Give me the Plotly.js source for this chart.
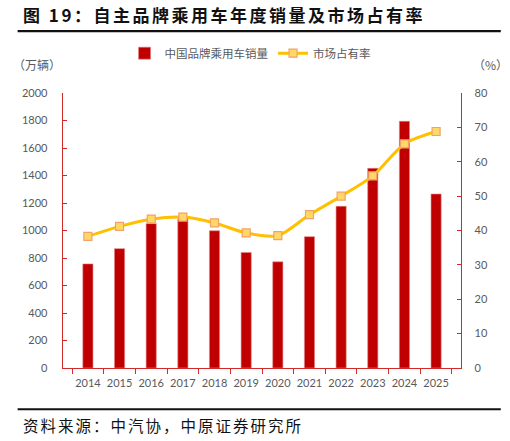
<!DOCTYPE html>
<html>
<head>
<meta charset="utf-8">
<script src="https://cdn.plot.ly/plotly-3.0.1.min.js"></script>
<style>
  body { margin: 0; background: #fff; }
  #chart { width: 510px; height: 441px; }
</style>
</head>
<body>
<div id="chart"></div>
<script>
// 年份
var years = ['2014', '2015', '2016', '2017', '2018', '2019', '2020', '2021', '2022', '2023', '2024', '2025'];
// 中国品牌乘用车销量 (万辆)
var sales = [757, 868, 1050, 1085, 998, 840, 772, 955, 1176, 1452, 1794, 1265];
// 市场占有率 (%)
var share = [38.3, 41.2, 43.3, 43.9, 42.2, 39.3, 38.5, 44.6, 50.0, 55.9, 65.2, 68.8];

var numFont = 'Lato, "Noto Sans CJK SC", sans-serif';
var cjkFont = '"Noto Sans CJK SC", sans-serif';
var axisRed = '#d02a2a';
var grey = '#595959';

var barTrace = {
  x: years,
  y: sales,
  name: '中国品牌乘用车销量',
  type: 'bar',
  width: 0.32,
  marker: { color: '#c00000', line: { color: '#e08080', width: 0.6 } },
  yaxis: 'y'
};

var lineTrace = {
  x: years,
  y: share,
  name: '市场占有率',
  type: 'scatter',
  mode: 'lines+markers',
  line: { color: '#ffc000', width: 3, shape: 'spline', smoothing: 0.8 },
  marker: { symbol: 'square', size: 8, color: '#ffd966', line: { color: '#f4a06a', width: 1.2 } },
  yaxis: 'y2'
};

var layout = {
  width: 510,
  height: 441,
  margin: { l: 63, r: 49, t: 93, b: 73 },
  paper_bgcolor: '#fff',
  plot_bgcolor: '#fff',
  font: { family: numFont, color: grey, size: 11 },
  showlegend: true,
  legend: {
    orientation: 'h',
    x: 0.47, xanchor: 'center',
    y: 1.145, yanchor: 'middle',
    font: { family: cjkFont, size: 11.5, color: grey },
    itemwidth: 30,
    traceorder: 'normal'
  },
  xaxis: {
    type: 'category',
    showline: true,
    linecolor: axisRed,
    linewidth: 1.3,
    ticks: 'outside',
    tickson: 'boundaries',
    ticklen: 5,
    tickcolor: axisRed,
    tickangle: 0,
    tickfont: { family: numFont, size: 11, color: grey },
    ticklabelstandoff: 4,
    showgrid: false,
    zeroline: false
  },
  yaxis: {
    range: [0, 2000],
    dtick: 200,
    showline: true,
    linecolor: axisRed,
    linewidth: 1.3,
    ticks: 'inside',
    ticklen: 4,
    tickcolor: axisRed,
    tickfont: { family: numFont, size: 11, color: grey },
    ticklabelstandoff: 12,
    showgrid: false,
    zeroline: false
  },
  yaxis2: {
    range: [0, 80],
    dtick: 10,
    overlaying: 'y',
    side: 'right',
    showline: true,
    linecolor: axisRed,
    linewidth: 1.3,
    ticks: 'inside',
    ticklen: 4,
    tickcolor: axisRed,
    tickfont: { family: numFont, size: 11, color: grey },
    ticklabelstandoff: 10,
    showgrid: false,
    zeroline: false
  },
  shapes: [
    { type: 'line', xref: 'paper', yref: 'paper', x0: -0.114, x1: 1.1, y0: 1.225, y1: 1.225,
      line: { color: '#111', width: 2.2 } },
    { type: 'line', xref: 'paper', yref: 'paper', x0: -0.114, x1: 1.1, y0: -0.15, y1: -0.15,
      line: { color: '#111', width: 2.2 } }
  ],
  annotations: [
    { text: '<b>图 19：自主品牌乘用车年度销量及市场占有率</b>', xref: 'paper', yref: 'paper',
      x: -0.105, y: 1.285, xanchor: 'left', yanchor: 'middle', showarrow: false,
      font: { family: cjkFont, size: 17, color: '#111' } },
    { text: '（万辆）', xref: 'paper', yref: 'paper', x: -0.13, y: 1.103,
      xanchor: 'left', yanchor: 'middle', showarrow: false,
      font: { family: cjkFont, size: 12, color: grey } },
    { text: '（%）', xref: 'paper', yref: 'paper', x: 1.075, y: 1.103,
      xanchor: 'center', yanchor: 'middle', showarrow: false,
      font: { family: cjkFont, size: 12, color: grey } },
    { text: '资料来源：中汽协，中原证券研究所', xref: 'paper', yref: 'paper',
      x: -0.105, y: -0.208, xanchor: 'left', yanchor: 'middle', showarrow: false,
      font: { family: cjkFont, size: 15.5, color: '#111' } }
  ]
};

function spread(el, px) {
  // letter spacing, kept anchored at the left edge
  var b0 = el.getBBox();
  el.style.letterSpacing = px;
  var b1 = el.getBBox();
  el.setAttribute('transform', 'translate(' + (b0.x - b1.x) + ',0)');
}

function flatSwatch(gd) {
  // wide flat swatch for the bar entry, like the office-style legend
  var sw = gd.querySelectorAll('path.legendbar');
  for (var j = 0; j < sw.length; j++) {
    sw[j].setAttribute('d', 'M11,3.5H-11V-3.5H11Z');
  }
}

Plotly.newPlot('chart', [barTrace, lineTrace], layout, { displayModeBar: false, staticPlot: true }).then(function(gd) {
  var notes = gd.querySelectorAll('.annotation-text');
  for (var i = 0; i < notes.length; i++) {
    var t = notes[i].textContent;
    if (t.indexOf('图 19') === 0) spread(notes[i], '2.5px');
    if (t.indexOf('资料来源') === 0) spread(notes[i], '2px');
  }
  flatSwatch(gd);
  setTimeout(function() { flatSwatch(gd); }, 200);
});
</script>
</body>
</html>
